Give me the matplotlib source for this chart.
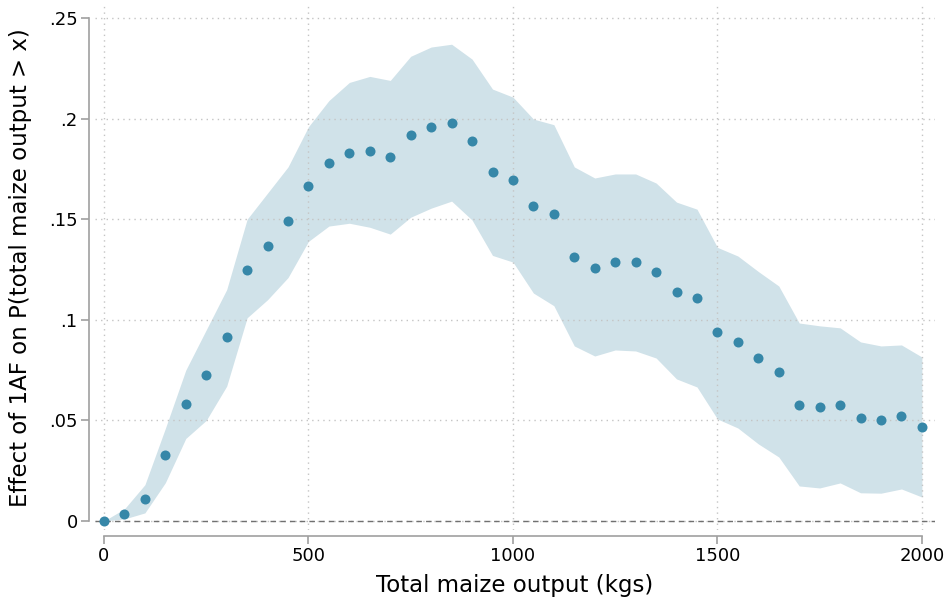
import numpy as np
import matplotlib
matplotlib.use("Agg")
import matplotlib.pyplot as plt

# thresholds (kgs)
x = np.arange(0, 2001, 50)

# point estimates
effect = [0.0, 0.0035, 0.011, 0.033, 0.058, 0.0726, 0.0915, 0.1248, 0.1367, 0.149,
          0.1665, 0.178, 0.183, 0.184, 0.181, 0.192, 0.196, 0.198, 0.189, 0.1735,
          0.1695, 0.1566, 0.1526, 0.131, 0.126, 0.1287, 0.1287, 0.124, 0.114, 0.111,
          0.094, 0.089, 0.081, 0.074, 0.0577, 0.0567, 0.0577, 0.0512, 0.050, 0.052,
          0.0467]

# confidence band
upper = [0.0, 0.006, 0.018, 0.046, 0.075, 0.095, 0.115, 0.150, 0.163, 0.176,
         0.196, 0.209, 0.218, 0.221, 0.219, 0.231, 0.2356, 0.237, 0.2296, 0.2147,
         0.2107, 0.1998, 0.197, 0.176, 0.1705, 0.1725, 0.1725, 0.168, 0.1585, 0.155,
         0.136, 0.1317, 0.124, 0.1168, 0.0984, 0.097, 0.096, 0.089, 0.087, 0.0875,
         0.0815]
lower = [0.0, 0.001, 0.004, 0.019, 0.041, 0.050, 0.067, 0.101, 0.110, 0.121,
         0.139, 0.1466, 0.148, 0.146, 0.1426, 0.151, 0.1555, 0.159, 0.1496, 0.132,
         0.1287, 0.1133, 0.107, 0.087, 0.082, 0.085, 0.0845, 0.081, 0.0706, 0.0666,
         0.0507, 0.0462, 0.0383, 0.0318, 0.0174, 0.0164, 0.0189, 0.014, 0.0138, 0.0159,
         0.0119]

xticks = [0, 500, 1000, 1500, 2000]
yticks = [0, 0.05, 0.1, 0.15, 0.2, 0.25]
ytick_labels = ["0", ".05", ".1", ".15", ".2", ".25"]

W, H = 948, 604
fig = plt.figure(figsize=(W / 100, H / 100), dpi=100)
left, right, top, bottom = 95, 935, 5, 530
ax = fig.add_axes([left / W, 1 - bottom / H, (right - left) / W, (bottom - top) / H])

ax.fill_between(x, lower, upper, color="#d0e2e9", linewidth=0, zorder=1)
ax.scatter(x, effect, s=52, color="#3687a8", zorder=3, linewidths=0)
ax.axhline(0, color="#707070", lw=1, ls=(0, (4, 3)), zorder=2)

ax.set_xlim(-22, 2032)
ax.set_ylim(-0.0045, 0.2565)
ax.set_xticks(xticks)
ax.set_yticks(yticks)
ax.set_yticklabels(ytick_labels)

ax.grid(True, color="#c4c4c4", ls=(0, (1, 3)), lw=1)
ax.set_axisbelow("line")

for s in ["top", "right"]:
    ax.spines[s].set_visible(False)
for s in ["left", "bottom"]:
    ax.spines[s].set_color("#a0a0a0")
    ax.spines[s].set_linewidth(1.2)
    ax.spines[s].set_position(("outward", 4))
ax.spines["left"].set_bounds(0, 0.25)
ax.spines["bottom"].set_bounds(0, 2000)
ax.tick_params(colors="#a0a0a0", labelcolor="black", length=5.5, width=1.2,
               labelsize=13, pad=3)

ax.set_xlabel("Total maize output (kgs)", fontsize=16.5, labelpad=6)
ax.set_ylabel("Effect of 1AF on P(total maize output > x)", fontsize=16.5, labelpad=12)

fig.savefig("out.png", dpi=100)
